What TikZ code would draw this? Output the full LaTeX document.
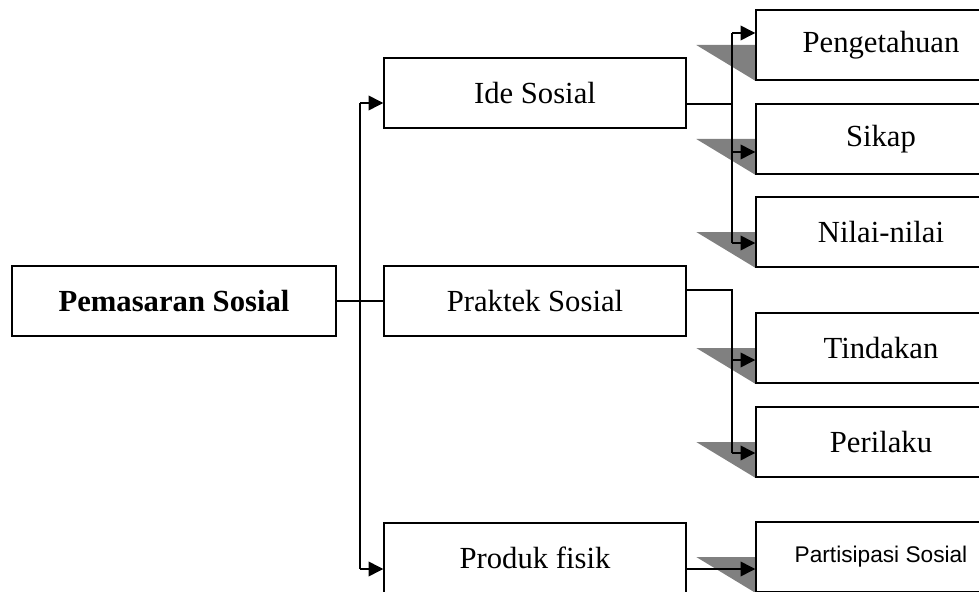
\documentclass[tikz,border=0pt]{standalone}
\usepackage{fontspec}
\setmainfont{Liberation Serif}
\newfontfamily\arialfont{Liberation Sans}
\usetikzlibrary{arrows.meta,backgrounds}

\begin{document}
\begin{tikzpicture}[x=0.75pt,y=-0.75pt,
        box/.style={draw, line width=1.1pt, fill=white, inner sep=0pt,
            minimum height=52.5pt, font=\fontsize{23}{28}\selectfont},
        link/.style={line width=1.1pt},
        arr/.style={link, -{Triangle[length=11pt,width=11pt]}},
        wedge/.style={fill=black!50}]
        \useasboundingbox (0,0) rectangle (979,592);
        \clip (0,0) rectangle (979,592);
        % main boxes
        \node[box, minimum width=243pt, font=\fontsize{23}{28}\selectfont\bfseries] (pem) at (174,301) {Pemasaran Sosial};
        \node[box, minimum width=226.5pt] (ide) at (535,93) {Ide Sosial};
        \node[box, minimum width=226.5pt] (prak) at (535,301) {Praktek Sosial};
        \node[box, minimum width=226.5pt] (prod) at (535,558) {Produk fisik};
        % right column
        \node[box, minimum width=187.5pt] (peng) at (881,45) {Pengetahuan};
        \node[box, minimum width=187.5pt] (sikap) at (881,139) {Sikap};
        \node[box, minimum width=187.5pt] (nilai) at (881,232) {Nilai-nilai};
        \node[box, minimum width=187.5pt] (tind) at (881,348) {Tindakan};
        \node[box, minimum width=187.5pt] (peri) at (881,442) {Perilaku};
        \node[box, minimum width=187.5pt, font=\fontsize{17}{20}\selectfont\arialfont] (part) at (881,557) {Partisipasi Sosial};
        \begin{scope}[on background layer]
            \foreach \n in {peng,sikap,nilai,tind,peri,part}
                \fill[wedge] (\n.west) -- ++(-59,0) -- (\n.south west) -- cycle;
        \end{scope}
        % junction points
        \coordinate (ja) at (360,103);
        \coordinate (jb) at (360,569);
        \coordinate (ka) at (732,33);
        \coordinate (kb) at (732,152);
        \coordinate (kc) at (732,243);
        \coordinate (kd) at (732,104);
        \coordinate (ma) at (732,290);
        \coordinate (mb) at (732,360);
        \coordinate (mc) at (732,453);
        \coordinate (pa) at (732,569);
        % left trunk
        \draw[link] (ja) -- (jb);
        \draw[link] (pem.east) -- (prak.west);
        \draw[arr] (ja) -- (ja -| ide.west);
        \draw[arr] (jb) -- (jb -| prod.west);
        % ide sosial branch
        \draw[link] (kd -| ide.east) -- (kd);
        \draw[link] (ka) -- (kc);
        \draw[arr] (ka) -- (ka -| peng.west);
        \draw[arr] (kb) -- (kb -| sikap.west);
        \draw[arr] (kc) -- (kc -| nilai.west);
        % praktek sosial branch
        \draw[link] (ma -| prak.east) -- (ma) -- (mc);
        \draw[arr] (mb) -- (mb -| tind.west);
        \draw[arr] (mc) -- (mc -| peri.west);
        % produk fisik
        \draw[arr] (pa -| prod.east) -- (pa -| part.west);
    \end{tikzpicture}
\end{document}
